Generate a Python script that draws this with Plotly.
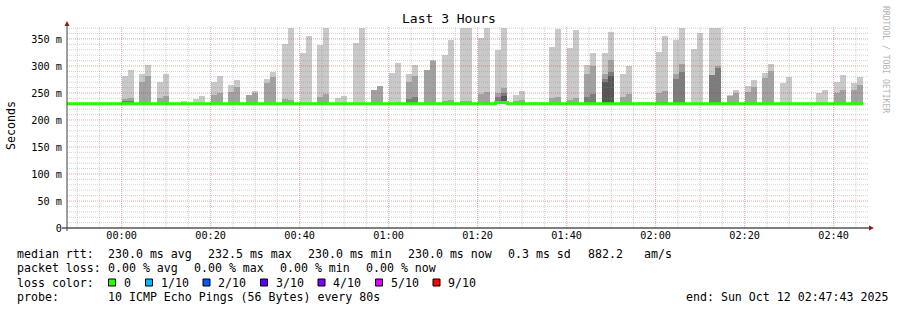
import plotly.graph_objects as go
from datetime import datetime, timedelta

# ---------------- data ----------------
t_start = "2025-10-11 23:47:43"
t_end = "2025-10-12 02:47:43"
day = "2025-10-12"
step_s = 80  # seconds per probe step

# each slot (4 min) holds two 80 s steps "a" and "b"; the third step shows no smoke
slot_starts = ["00:00", "00:04", "00:08", "00:12", "00:16", "00:20", "00:24", "00:28",
               "00:32", "00:36", "00:40", "00:44", "00:48", "00:52", "00:56", "01:00",
               "01:04", "01:08", "01:12", "01:16", "01:20", "01:24", "01:28", "01:32",
               "01:36", "01:40", "01:44", "01:48", "01:52", "01:56", "02:00", "02:04",
               "02:08", "02:12", "02:16", "02:20", "02:24", "02:28", "02:32", "02:36",
               "02:40", "02:44"]
# highest ping (ms)
p10_a = [281, 286, 271, None, 239.4, 271, 265.4, 247, 275.2, 341.3, 324.6, 339.4, 241.3, 343,
         256, 287.6, 285.7, 292.6, 321, 371, 352, 330, 245.6, 233.6, 335, 334, 302.4, 324.6,
         285.7, 233, 326.5, 349, 332, 371, 247, 263.5, 287.6, 269, None, 250.5, 271, 269]
p10_b = [293, 302, 284.5, 236, 243.7, 282, 274.6, 254.3, 289.4, 371, 356, 371, 243.7, 371,
         263.5, 306, 302.4, 311.5, 349, 371, 371, 371, 254.3, 233.6, 368, 366, 324.6, 363.5,
         300.5, 233, 356, 371, 361.7, 371, 256, 274.6, 304.3, 280.2, None, 256, 284, 280.2]
# 2nd highest ping
p9_a = [238, 270, 240, None, None, 245.6, 251.8, 246, 268.5, 238, None, 243, None, None,
        256, None, 271, 292.6, 236, 235, 247.4, 250.5, 236, None, 240, 237, 284.5, 285.7,
        243, None, 250.5, 285.7, None, 284, 245, 252.4, 278.3, None, None, None, 250.5, 256]
p9_b = [240, 281, 243.7, None, None, 249.3, 260.4, 250.5, 280.2, 237, None, 247.4, None, None,
        263.5, 232, 282, 310, 237, 236, 252, 259.4, 237, None, 242, 240, 300.5, 310.4,
        247.4, None, 254.3, 304.3, None, 300.5, 250.5, 260.4, 291.3, None, None, None, 256, 265.4]
# 3rd highest ping
p8_a = [235, None, None, None, None, None, None, None, None, 234, None, None, None, None,
        None, None, 239, None, None, None, None, 243, None, None, None, None, 243, 276,
        None, None, 233, 275.2, None, 283, None, None, None, None, None, None, None, None]
p8_b = [236, None, None, None, None, None, None, None, None, 234, None, None, None, None,
        None, None, 242, None, None, None, 233, 250, None, None, None, None, 247.4, 289.4,
        None, None, 234, 289.4, None, 296.8, None, None, None, None, None, None, None, None]
# 4th highest ping
p7_a = [None] * 27 + [269.6] + [None] * 14
p7_b = [None] * 21 + [245] + [None] * 5 + [282] + [None] * 14

median_base = 230.0
median_raised = {"01:24:00": 232.5, "01:25:20": 232.5}

y_ticks = [0, 50, 100, 150, 200, 250, 300, 350]
y_tick_text = ["0", "50 m", "100 m", "150 m", "200 m", "250 m", "300 m", "350 m"]

loss_labels = ["0", "1/10", "2/10", "3/10", "4/10", "5/10", "9/10"]
loss_colors = ["#26ff00", "#00b8ff", "#0059ff", "#5e00ff", "#7e00ff", "#dd00ff", "#ff0000"]

smoke_colors = ["#c9c9c9", "#a2a2a2", "#7c7c7c", "#565656"]

# ---------------- build ----------------
def dt(hm):
    return datetime.strptime(f"{day} {hm}", "%Y-%m-%d %H:%M")

centers = []
levels = [[], [], [], []]
for i, s in enumerate(slot_starts):
    t0 = dt(s)
    for j, cols in enumerate([(p10_a, p9_a, p8_a, p7_a), (p10_b, p9_b, p8_b, p7_b)]):
        centers.append(t0 + timedelta(seconds=step_s * j + step_s / 2))
        for L in range(4):
            v = cols[L][i]
            levels[L].append(None if v is None else v - median_base)

fig = go.Figure()
for L in range(4):
    fig.add_trace(go.Bar(x=centers, y=levels[L], base=median_base, width=step_s * 1000,
                         marker=dict(color=smoke_colors[L], line=dict(width=0)),
                         hoverinfo="skip", showlegend=False))

# median line (steps of 80 s)
mx, my = [], []
t = dt("00:00") - timedelta(seconds=step_s * 10)
t_last = dt("02:44") + timedelta(seconds=step_s * 2)
while t < t_last:
    mx.append(t)
    my.append(median_raised.get(t.strftime("%H:%M:%S"), median_base))
    t += timedelta(seconds=step_s)
mx.append(t_last)
my.append(my[-1])
fig.add_trace(go.Scatter(x=mx, y=my, mode="lines", line=dict(color=loss_colors[0], width=3, shape="hv"),
                         hoverinfo="skip", showlegend=False))

# ---------------- layout ----------------
W, H = 897, 310
PL, PR, PT, PB = 67, 868, 27, 228


def px(x):
    return (x - PL) / (PR - PL)


def py(y):
    return (PB - y) / (PB - PT)


mono = "DejaVu Sans Mono"
shapes = []
minor_col = "rgba(140,140,140,0.4)"
major_col = "rgba(200,40,40,0.42)"
# vertical grid every 5 min (major every 20 min)
g = dt("00:00") - timedelta(minutes=10)
while g <= datetime.strptime(t_end, "%Y-%m-%d %H:%M:%S"):
    major = (g.minute % 20 == 0)
    shapes.append(dict(type="line", xref="x", yref="paper", x0=g, x1=g, y0=0, y1=1,
                       line=dict(color=major_col if major else minor_col, width=1, dash="1px,1px"),
                       layer="above"))
    g += timedelta(minutes=5)
# horizontal grid every 10 ms (major every 50)
for v in range(10, 380, 10):
    major = (v % 50 == 0)
    shapes.append(dict(type="line", xref="paper", yref="y", x0=0, x1=1, y0=v, y1=v,
                       line=dict(color=major_col if major else minor_col, width=1, dash="1px,1px"),
                       layer="above"))
# axes lines and arrows
shapes.append(dict(type="line", xref="paper", yref="paper", x0=px(62), x1=px(870), y0=py(228), y1=py(228),
                   line=dict(color="#000000", width=1), layer="above"))
shapes.append(dict(type="line", xref="paper", yref="paper", x0=px(67), x1=px(67), y0=py(231), y1=py(25),
                   line=dict(color="#404040", width=1), layer="above"))
shapes.append(dict(type="path", xref="paper", yref="paper",
                   path=f"M {px(869)} {py(225.5)} L {px(874)} {py(228)} L {px(869)} {py(230.5)} Z",
                   fillcolor="#8b1a1a", line=dict(width=0), layer="above"))
shapes.append(dict(type="path", xref="paper", yref="paper",
                   path=f"M {px(64.5)} {py(26)} L {px(67)} {py(21)} L {px(69.5)} {py(26)} Z",
                   fillcolor="#8b1a1a", line=dict(width=0), layer="above"))

ann = []


def text(x, y, s, size=11.6, anchor="left", color="#000000", angle=0):
    ann.append(dict(text=s, xref="paper", yref="paper", x=px(x), y=py(y), xanchor=anchor,
                    yanchor="middle", showarrow=False, borderpad=0, textangle=angle,
                    font=dict(family=mono, size=size, color=color)))


text(448.5, 19, "Last 3 Hours", size=13, anchor="center")
text(11, 126, "Seconds", size=11.6, anchor="center", angle=-90)
text(886, 59, "RRDTOOL / TOBI OETIKER", size=8.1, anchor="center", color="#b4b4b4", angle=90)

row1 = [(16, "median rtt:"), (107, "230.0 ms avg"), (207, "232.5 ms max"), (307, "230.0 ms min"),
        (407, "230.0 ms now"), (507, "0.3 ms sd"), (587, "882.2"), (643, "am/s")]
row2 = [(16, "packet loss:"), (107, "0.00 % avg"), (193, "0.00 % max"), (279, "0.00 % min"),
        (365, "0.00 % now")]
for x, s in row1:
    text(x, 254.3, s)
for x, s in row2:
    text(x, 268.3, s)
text(16, 282.7, "loss color:")
sw_x = [108.5, 145.5, 203, 260.5, 318, 375.5, 433]
for x, lab, col in zip(sw_x, loss_labels, loss_colors):
    shapes.append(dict(type="rect", xref="paper", yref="paper", x0=px(x), x1=px(x + 7),
                       y0=py(279), y1=py(286), fillcolor=col, line=dict(color="#000000", width=1)))
    text(x + 14, 282.7, lab)
text(16, 296.7, "probe:")
text(107, 296.7, "10 ICMP Echo Pings (56 Bytes) every 80s")
text(889, 296.7, "end: Sun Oct 12 02:47:43 2025", anchor="right")

fig.update_layout(
    width=W, height=H, margin=dict(l=PL, r=W - PR, t=PT, b=H - PB),
    paper_bgcolor="#ffffff", plot_bgcolor="#ffffff",
    barmode="overlay", bargap=0, showlegend=False,
    shapes=shapes, annotations=ann,
    xaxis=dict(type="date", range=[t_start, t_end], tick0=f"{day} 00:00", dtick=20 * 60 * 1000,
               tickformat="%H:%M", showgrid=False, zeroline=False, showline=False, ticks="",
               tickfont=dict(family=mono, size=10.2, color="#000000"), fixedrange=True),
    yaxis=dict(range=[0, 372.2], tickmode="array", tickvals=y_ticks, ticktext=y_tick_text,
               showgrid=False, zeroline=False, showline=False, ticks="", ticklabelstandoff=4,
               tickfont=dict(family=mono, size=10.2, color="#000000"), fixedrange=True),
)

fig.write_html("out.html")
